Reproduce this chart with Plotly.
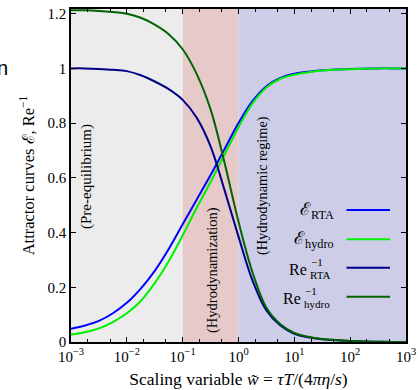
import plotly.graph_objects as go

# ---------------- data ----------------
log_w = [-3, -2.75, -2.5, -2.25, -2, -1.75, -1.5, -1.25, -1, -0.75, -0.5, -0.25, 0,
         0.25, 0.5, 0.75, 1, 1.25, 1.5, 1.75, 2, 2.25, 2.5, 2.75, 3]
w = [10 ** v for v in log_w]
E_rta = [0.048, 0.06, 0.077, 0.105, 0.143, 0.195, 0.26, 0.34, 0.43, 0.52, 0.61, 0.705, 0.80,
         0.88, 0.935, 0.965, 0.98, 0.988, 0.993, 0.996, 0.998, 0.999, 1.0, 1.0, 1.0]
E_hydro = [0.027, 0.036, 0.05, 0.073, 0.105, 0.15, 0.215, 0.295, 0.39, 0.49, 0.585, 0.685, 0.785,
           0.872, 0.93, 0.962, 0.977, 0.986, 0.992, 0.995, 0.997, 0.999, 1.0, 1.0, 1.0]
Re_rta = [1.0, 1.0, 0.998, 0.995, 0.99, 0.975, 0.952, 0.924, 0.885, 0.82, 0.715, 0.555, 0.385,
          0.225, 0.115, 0.06, 0.03, 0.017, 0.01, 0.006, 0.004, 0.002, 0.001, 0.0, 0.0]
Re_hydro = [1.212, 1.212, 1.21, 1.206, 1.20, 1.185, 1.16, 1.125, 1.07, 0.98, 0.85, 0.655, 0.44,
            0.255, 0.125, 0.065, 0.033, 0.019, 0.011, 0.007, 0.004, 0.002, 0.001, 0.0, 0.0]

x_tickvals = [1e-3, 1e-2, 1e-1, 1, 10, 100, 1000]
x_ticktext = ["10<sup>−3</sup>", "10<sup>−2</sup>", "10<sup>−1</sup>", "10<sup>0</sup>",
              "10<sup>1</sup>", "10<sup>2</sup>", "10<sup>3</sup>"]
y_tickvals = [0, 0.2, 0.4, 0.6, 0.8, 1.0, 1.2]
y_ticktext = ["0", "0.2", "0.4", "0.6", "0.8", "1", "1.2"]

regions = [(1e-3, 1e-1, "#ececec"), (1e-1, 1, "#e6c9c9"), (1, 1e3, "#cdcde8")]

series = [
    ("E_RTA", E_rta, "#0000ff"),
    ("E_hydro", E_hydro, "#00f000"),
    ("Re_RTA", Re_rta, "#000088"),
    ("Re_hydro", Re_hydro, "#006400"),
]

SERIF = "Liberation Serif, DejaVu Serif, serif"

fig = go.Figure()
for name, vals, col in series:
    fig.add_trace(go.Scatter(x=w, y=vals, mode="lines", name=name,
                             line=dict(color=col, width=2, shape="spline", smoothing=1.0),
                             showlegend=False))

W, H = 418, 390
L, R, T, B = 71, 12, 9, 48
pw, ph = W - L - R, H - T - B


def px(x):
    return (x - L) / pw


def py(y):
    return (H - B - y) / ph


shapes = []
for x0, x1, col in regions:
    shapes.append(dict(type="rect", xref="x", yref="paper", x0=x0, x1=x1, y0=0, y1=1,
                       fillcolor=col, line=dict(width=0), layer="below"))

annotations = []
# region labels
for text, lx, ly, fs in [("(Pre-equilibrium)", 87, 177, 15),
                         ("(Hydrodynamization)", 212, 270, 14.5),
                         ("(Hydrodynamic regime)", 262, 186, 14.3)]:
    annotations.append(dict(text=text, xref="paper", yref="paper", x=px(lx), y=py(ly),
                            textangle=-90, showarrow=False, xanchor="center", yanchor="middle",
                            font=dict(family=SERIF, size=fs, color="black")))

# manual legend (text on left, line sample on right)
rows = [210, 239.3, 267.7, 296.7]
cols = [s[2] for s in series]
for ry, col in zip(rows, cols):
    shapes.append(dict(type="line", xref="paper", yref="paper", x0=px(346.5), x1=px(390),
                       y0=py(ry), y1=py(ry), line=dict(color=col, width=2)))

annotations.append(dict(text="ℰ<sub>RTA</sub>", xref="paper", yref="paper", x=px(336), y=py(rows[0]),
                        showarrow=False, xanchor="right", yanchor="middle",
                        font=dict(family=SERIF, size=17.5, color="black")))
annotations.append(dict(text="ℰ<sub>hydro</sub>", xref="paper", yref="paper", x=px(336), y=py(rows[1]),
                        showarrow=False, xanchor="right", yanchor="middle",
                        font=dict(family=SERIF, size=17.5, color="black")))
for ry, sub, rex in [(rows[2], "RTA", 309), (rows[3], "hydro", 303)]:
    annotations.append(dict(text="Re", xref="paper", yref="paper", x=px(rex), y=py(ry + 2),
                            showarrow=False, xanchor="right", yanchor="middle",
                            font=dict(family=SERIF, size=16, color="black")))
    annotations.append(dict(text="−1", xref="paper", yref="paper", x=px(rex), y=py(ry - 6),
                            showarrow=False, xanchor="left", yanchor="middle",
                            font=dict(family=SERIF, size=11, color="black")))
    annotations.append(dict(text=sub, xref="paper", yref="paper", x=px(rex - 1), y=py(ry + 7),
                            showarrow=False, xanchor="left", yanchor="middle",
                            font=dict(family=SERIF, size=11, color="black")))

# stray glyph at top-left of the reference
annotations.append(dict(text="n", xref="paper", yref="paper", x=px(9.5), y=py(68),
                        showarrow=False, xanchor="right", yanchor="middle",
                        font=dict(family="Liberation Sans, Arial, sans-serif", size=20, color="black")))

fig.update_layout(
    width=W, height=H,
    margin=dict(l=L, r=R, t=T, b=B, autoexpand=False),
    paper_bgcolor="white", plot_bgcolor="white",
    shapes=shapes, annotations=annotations,
    font=dict(family=SERIF, color="black"),
)
fig.update_xaxes(type="log", range=[-3, 3], tickvals=x_tickvals, ticktext=x_ticktext,
                 ticks="inside", ticklen=5, tickwidth=1, tickcolor="black",
                 minor=dict(ticks="inside", ticklen=3, tickcolor="black", showgrid=False),
                 showline=True, mirror="allticks", linecolor="black", linewidth=1.5,
                 showgrid=False, zeroline=False,
                 tickfont=dict(family=SERIF, size=15, color="black"),
                 title=dict(text="Scaling variable <i>w̃</i> = <i>τT</i>/(4<i>πη</i>/<i>s</i>)",
                            font=dict(family=SERIF, size=17.5, color="black"), standoff=9))
fig.update_yaxes(range=[0, 1.217], tickvals=y_tickvals, ticktext=y_ticktext,
                 ticks="inside", ticklen=5, tickwidth=1, tickcolor="black",
                 showline=True, mirror="allticks", linecolor="black", linewidth=1.5,
                 showgrid=False, zeroline=False,
                 tickfont=dict(family=SERIF, size=15, color="black"),
                 title=dict(text="Attractor curves ℰ, Re<sup>−1</sup>",
                            font=dict(family=SERIF, size=16.5, color="black"), standoff=9))

fig.write_html("out.html", config={"displayModeBar": False},
               post_script="document.body.style.margin='0';")
